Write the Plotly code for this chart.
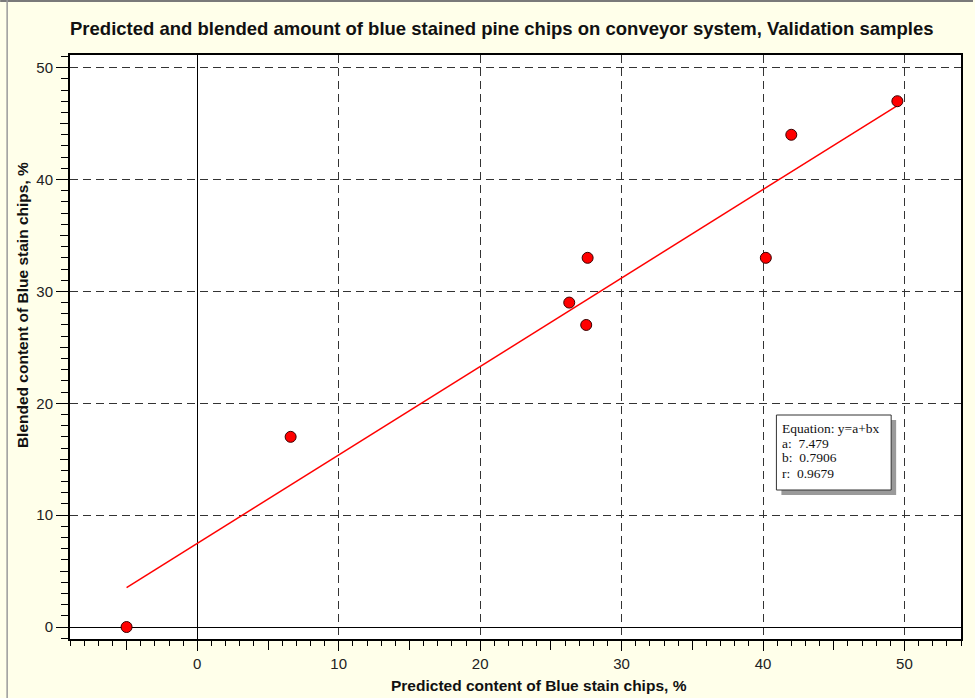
import plotly.graph_objects as go

# ---- data ----
predicted = [-5.0, 6.6, 26.3, 27.5, 27.6, 40.2, 42.0, 49.5]
blended = [0, 17, 29, 27, 33, 33, 44, 47]
coef_a = 7.479
coef_b = 0.7906
coef_r = 0.9679
x_ticks = [0, 10, 20, 30, 40, 50]
y_ticks = [0, 10, 20, 30, 40, 50]
x_mid_ticks = [-5, 5, 15, 25, 35, 45]
y_mid_ticks = [5, 15, 25, 35, 45]

title = "Predicted and blended amount of blue stained pine chips on conveyor system, Validation samples"
x_title = "Predicted content of Blue stain chips, %"
y_title = "Blended content of Blue stain chips, %"

# ---- layout geometry (pixels) ----
W, H = 975, 698
L, R, T, B = 70, 12, 55, 59
PW, PH = W - L - R, H - T - B

def px(p):
    return (p - L) / PW

def py(p):
    return (H - B - p) / PH

x_range = [-9.0, 54.0]
y_range = [-1.07, 51.13]

fit_x = [min(predicted), max(predicted)]
fit_y = [coef_a + coef_b * v for v in fit_x]

fig = go.Figure()
fig.add_trace(go.Scatter(x=fit_x, y=fit_y, mode="lines",
                         line=dict(color="#FF0000", width=1.5),
                         hoverinfo="skip", showlegend=False))
fig.add_trace(go.Scatter(x=predicted, y=blended, mode="markers",
                         marker=dict(color="#FF0000", size=11,
                                     line=dict(color="#3a0000", width=1)),
                         showlegend=False))
# dummy trace to draw the overlay tick axes
fig.add_trace(go.Scatter(x=[x_range[0]], y=[y_range[0]], xaxis="x2", yaxis="y2",
                         mode="markers", marker=dict(opacity=0),
                         hoverinfo="skip", showlegend=False))

font_main = "Liberation Sans, Arial, sans-serif"
tickfont = dict(family=font_main, size=15, color="#222222")

fig.update_layout(
    width=W, height=H,
    margin=dict(l=L, r=R, t=T, b=B),
    paper_bgcolor="#FFFFEA",
    plot_bgcolor="#FFFFFF",
    showlegend=False,
    xaxis=dict(range=x_range, tickvals=x_ticks, ticks="outside", ticklen=10,
               tickcolor="black", tickwidth=1, tickfont=tickfont,
               showgrid=True, gridcolor="#333333", gridwidth=1, griddash="8px,5px",
               zeroline=True, zerolinecolor="black", zerolinewidth=1,
               showline=True, linecolor="black", linewidth=2, mirror=True,
               minor=dict(dtick=1, ticks="outside", ticklen=5, tickcolor="black",
                          showgrid=False),
               fixedrange=True),
    yaxis=dict(range=y_range, tickvals=y_ticks, ticks="outside", ticklen=12,
               tickcolor="black", tickwidth=1, tickfont=tickfont,
               showgrid=True, gridcolor="#333333", gridwidth=1, griddash="8px,5px",
               zeroline=True, zerolinecolor="black", zerolinewidth=1,
               showline=True, linecolor="black", linewidth=2, mirror=True,
               minor=dict(dtick=1, ticks="outside", ticklen=7, tickcolor="black",
                          showgrid=False),
               fixedrange=True),
    xaxis2=dict(range=x_range, overlaying="x", side="bottom", tickvals=x_mid_ticks,
                ticks="outside", ticklen=10, tickcolor="black", showticklabels=False,
                showgrid=False, zeroline=False, showline=False, fixedrange=True),
    yaxis2=dict(range=y_range, overlaying="y", side="left", tickvals=y_mid_ticks,
                ticks="outside", ticklen=9, tickcolor="black", showticklabels=False,
                showgrid=False, zeroline=False, showline=False, fixedrange=True),
)

annotations = [
    dict(text="<b>" + title + "</b>", x=px(503), y=py(29), xref="paper", yref="paper",
         showarrow=False, font=dict(family=font_main, size=18.5, color="#111111"),
         xanchor="center", yanchor="middle"),
    dict(text="<b>" + x_title + "</b>", x=px(540), y=py(685), xref="paper", yref="paper",
         showarrow=False, font=dict(family=font_main, size=15.5, color="#111111"),
         xanchor="center", yanchor="middle"),
    dict(text="<b>" + y_title + "</b>", x=px(22), y=py(305), xref="paper", yref="paper",
         showarrow=False, font=dict(family=font_main, size=15.5, color="#111111"),
         xanchor="center", yanchor="middle", textangle=-90),
]
box_lines = ["Equation: y=a+bx", "a:  %s" % coef_a, "b:  %s" % coef_b, "r:  %s" % coef_r]
for i, t in enumerate(box_lines):
    annotations.append(dict(text=t, x=px(782), y=py(428 + 15 * i), xref="paper", yref="paper",
                            showarrow=False, xanchor="left", yanchor="middle",
                            font=dict(family="Liberation Serif, Times New Roman, serif",
                                      size=13.5, color="#111111")))
fig.update_layout(annotations=annotations)

shapes = [
    # shadow
    dict(type="rect", xref="paper", yref="paper", x0=px(783), x1=px(898), y0=py(420), y1=py(495),
         fillcolor="#9a9a9a", line=dict(width=0), layer="above"),
    # box
    dict(type="rect", xref="paper", yref="paper", x0=px(778), x1=px(893), y0=py(415), y1=py(490),
         fillcolor="#FFFFFF", line=dict(color="#333333", width=1), layer="above"),
    # outer frame lines (top and left)
    dict(type="line", xref="paper", yref="paper", x0=px(0), x1=px(W), y0=py(1), y1=py(1),
         line=dict(color="#7a7a7a", width=2)),
    dict(type="line", xref="paper", yref="paper", x0=px(7), x1=px(7), y0=py(0), y1=py(H),
         line=dict(color="#9a9a9a", width=1.5)),
]
fig.update_layout(shapes=shapes)

fig.write_html("out.html")
